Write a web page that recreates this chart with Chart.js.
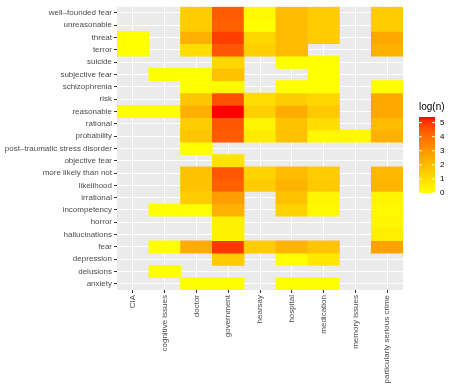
<!DOCTYPE html>
<html>
<head>
<meta charset="utf-8">
<script src="https://cdn.jsdelivr.net/npm/chart.js@4"></script>
<style>
  html, body { margin: 0; padding: 0; background: #fff; }
  #wrap { width: 453px; height: 386px; }
</style>
</head>
<body>
<div id="wrap"><canvas id="heat"></canvas></div>
<script>
// categories
const columns = ['CIA', 'cognitive issues', 'doctor', 'government', 'hearsay',
    'hospital', 'medication', 'memory issues', 'particularly serious crime'];
const rows = ['well\u2013founded fear', 'unreasonable', 'threat', 'terror', 'suicide',
    'subjective fear', 'schizophrenia', 'risk', 'reasonable', 'rational', 'probability',
    'post\u2013traumatic stress disorder', 'objective fear', 'more likely than not',
    'likelihood', 'irrational', 'incompetency', 'horror', 'hallucinations', 'fear',
    'depression', 'delusions', 'anxiety'];

// log(n) per column, one entry per row (top to bottom), null = no data
const n = null;
const cia        = [n, n, 0, 0, n, n, n, n, 0, n, n, n, n, n, n, n, n, n, n, n, n, n, n];
const cognitive  = [n, n, n, n, n, 0, n, n, 0, n, n, n, n, n, n, n, 0, n, n, 0, n, 0, n];
const doctor     = [1.5, 1.5, 2.3, 1.0, n, 0, 0, 1.7, 2.3, 1.5, 1.7, 0, n, 1.8, 1.8, 1.5, 0, n, n, 2.4, n, n, 0];
const government = [4.4, 4.3, 4.9, 4.5, 1.2, 1.8, 0.2, 4.6, 5.4, 4.5, 4.4, n, 0.8, 4.5, 4.3, 2.8, 2.3, 0.4, 0.4, 5.0, 1.5, n, 0];
const hearsay    = [0.2, 0, 1.2, 1.4, n, n, n, 1.0, 1.4, 0.3, 0.6, n, n, 1.3, 1.5, n, n, n, n, 1.5, n, n, n];
const hospital   = [2.0, 2.0, 2.0, 2.0, 0, n, 0, 1.5, 2.4, 1.8, 1.8, n, n, 2.0, 2.2, 1.8, 1.3, n, n, 2.2, 0, n, 0];
const medication = [1.5, 1.5, 1.5, n, 0, 0, 0, 1.2, 1.6, 1.0, 0.2, n, n, 1.5, 1.6, 0.3, 0.2, n, n, 1.7, 0.7, n, 0];
const memory     = [n, n, n, n, n, n, n, n, n, n, 0.2, n, n, n, n, n, n, n, n, n, n, n, n];
const serious    = [1.5, 1.5, 2.5, 2.3, n, n, 0, 2.5, 2.5, 2.0, 2.3, n, n, 2.1, 2.2, 0.3, 0.2, 0.3, 0.5, 2.7, n, n, n];
const byColumn = [cia, cognitive, doctor, government, hearsay, hospital, medication, memory, serious];

// colour scale
const scaleMin = 0;
const scaleMax = 5.4;
const legendTicks = [0, 1, 2, 3, 4, 5];

// yellow -> red, interpolated in Lab like ggplot
function toLab(hex) {
    let c = [1, 3, 5].map(i => parseInt(hex.substr(i, 2), 16) / 255)
        .map(v => v <= 0.04045 ? v / 12.92 : Math.pow((v + 0.055) / 1.055, 2.4));
    let x = (c[0] * 0.4124 + c[1] * 0.3576 + c[2] * 0.1805) / 0.95047;
    let y = (c[0] * 0.2126 + c[1] * 0.7152 + c[2] * 0.0722);
    let z = (c[0] * 0.0193 + c[1] * 0.1192 + c[2] * 0.9505) / 1.08883;
    const f = t => t > 0.008856 ? Math.cbrt(t) : 7.787 * t + 16 / 116;
    x = f(x); y = f(y); z = f(z);
    return [116 * y - 16, 500 * (x - y), 200 * (y - z)];
}
function fromLab(l, a, b) {
    let y = (l + 16) / 116, x = a / 500 + y, z = y - b / 200;
    const g = t => t * t * t > 0.008856 ? t * t * t : (t - 16 / 116) / 7.787;
    x = g(x) * 0.95047; y = g(y); z = g(z) * 1.08883;
    let r = x * 3.2406 + y * -1.5372 + z * -0.4986;
    let gg = x * -0.9689 + y * 1.8758 + z * 0.0415;
    let bb = x * 0.0557 + y * -0.2040 + z * 1.0570;
    return 'rgb(' + [r, gg, bb].map(v => {
        v = v > 0.0031308 ? 1.055 * Math.pow(v, 1 / 2.4) - 0.055 : 12.92 * v;
        return Math.round(Math.max(0, Math.min(1, v)) * 255);
    }).join(',') + ')';
}
const lowLab = toLab('#FFFF00');
const highLab = toLab('#FF0000');
function colourFor(v) {
    const t = Math.max(0, Math.min(1, (v - scaleMin) / (scaleMax - scaleMin)));
    return fromLab(...lowLab.map((c, i) => c + (highLab[i] - c) * t));
}

// one floating-bar dataset per row
const datasets = rows.map((label, r) => ({
    label: label,
    data: byColumn.map(col => col[r] === null ? null : [r, r + 1]),
    backgroundColor: byColumn.map(col => col[r] === null ? 'rgba(0,0,0,0)' : colourFor(col[r])),
    borderWidth: 0,
    borderSkipped: false,
    barPercentage: 1,
    categoryPercentage: 1,
    grouped: false
}));

const panelAndLegend = {
    id: 'panelAndLegend',
    beforeDraw(chart) {
        const a = chart.chartArea, ctx = chart.ctx;
        ctx.save();
        ctx.fillStyle = '#EBEBEB';
        ctx.fillRect(a.left, a.top, a.right - a.left, a.bottom - a.top);
        ctx.restore();
    },
    afterDraw(chart) {
        const a = chart.chartArea, ctx = chart.ctx;
        const x0 = a.right + 16, w = 16;
        const top = 117, bottom = 193;
        ctx.save();
        ctx.fillStyle = '#000';
        ctx.font = '10px "Liberation Sans", Arial, sans-serif';
        ctx.textBaseline = 'middle';
        ctx.textAlign = 'left';
        ctx.fillText('log(n)', x0, 107);

        const grad = ctx.createLinearGradient(0, bottom, 0, top);
        for (let i = 0; i <= 20; i++) {
            grad.addColorStop(i / 20, colourFor(scaleMin + (scaleMax - scaleMin) * i / 20));
        }
        ctx.fillStyle = grad;
        ctx.fillRect(x0, top, w, bottom - top);

        ctx.font = '8px "Liberation Sans", Arial, sans-serif';
        ctx.strokeStyle = '#fff';
        ctx.lineWidth = 1;
        legendTicks.forEach(t => {
            const y = bottom - (t - scaleMin) / (scaleMax - scaleMin) * (bottom - top);
            ctx.beginPath();
            ctx.moveTo(x0, y); ctx.lineTo(x0 + 3, y);
            ctx.moveTo(x0 + w - 3, y); ctx.lineTo(x0 + w, y);
            ctx.stroke();
            ctx.fillStyle = '#000';
            ctx.fillText(String(t), x0 + w + 5, y);
        });
        ctx.restore();
    }
};

const tickFont = { family: '"Liberation Sans", Arial, sans-serif', size: 8 };

new Chart(document.getElementById('heat'), {
    type: 'bar',
    data: { labels: columns, datasets: datasets },
    options: {
        responsive: true,
        maintainAspectRatio: false,
        animation: false,
        layout: { padding: { left: 0, top: 4, right: 50, bottom: 0 } },
        plugins: { legend: { display: false }, tooltip: { enabled: false } },
        scales: {
            x: {
                offset: true,
                grid: { color: '#fff', lineWidth: 1, offset: false, tickColor: '#333', tickLength: 3 },
                border: { display: false },
                ticks: { font: tickFont, color: '#4D4D4D', maxRotation: 90, minRotation: 90, padding: 2, autoSkip: false },
                afterFit: s => { s.height = 96; }
            },
            y: {
                type: 'linear',
                min: 0,
                max: rows.length,
                reverse: true,
                grid: { color: '#fff', lineWidth: 1, tickColor: '#333', tickLength: 3 },
                border: { display: false },
                afterBuildTicks: s => { s.ticks = rows.map((_, i) => ({ value: i + 0.5 })); },
                ticks: {
                    font: tickFont, color: '#4D4D4D', padding: 2, autoSkip: false,
                    callback: v => rows[Math.floor(v)]
                },
                afterFit: s => { s.width = 117; }
            }
        }
    },
    plugins: [panelAndLegend]
});
</script>
</body>
</html>
